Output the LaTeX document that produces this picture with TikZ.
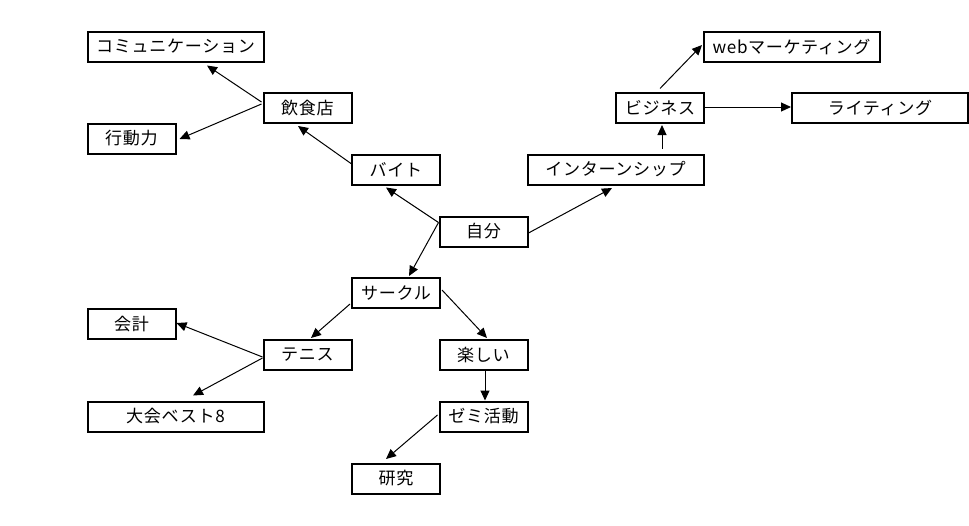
\documentclass[tikz,border=0pt]{standalone}
\usepackage{fontspec}
\setmainfont{Noto Sans CJK JP}[LetterSpace=4]
\usetikzlibrary{arrows.meta,calc}
\begin{document}
\begin{tikzpicture}[x=0.75pt,y=-0.75pt,
  box/.style={draw,line width=1.5pt,minimum height=22.5pt,inner sep=0pt,font=\fontsize{12.8pt}{14pt}\selectfont},
  sbox/.style={box,minimum width=66pt},
  lbox/.style={box,minimum width=132pt},
  arr/.style={-{Triangle[length=7.5pt,width=6.75pt]},line width=0.75pt}]
\useasboundingbox (0,0) rectangle (969,525);
\node[lbox] (comm) at (175.5,46.5) {コミュニケーション};
\node[sbox] (inshoku) at (307.5,108) {飲食店};
\node[sbox] (kodo) at (131.5,138.5) {行動力};
\node[sbox] (baito) at (396,169.5) {バイト};
\node[sbox] (jibun) at (483.5,231.5) {自分};
\node[lbox] (intern) at (615.5,169.5) {インターンシップ};
\node[sbox] (biz) at (660,108) {ビジネス};
\node[lbox] (web) at (791.5,46.5) {webマーケティング};
\node[lbox] (writing) at (880,108) {ライティング};
\node[sbox] (circle) at (396,293) {サークル};
\node[sbox] (kaikei) at (131.5,324) {会計};
\node[sbox] (tennis) at (307.5,355) {テニス};
\node[sbox] (tanoshii) at (483.5,355) {楽しい};
\node[lbox] (taikai) at (175.5,416.5) {大会ベスト8};
\node[sbox] (zemi) at (483.5,416.5) {ゼミ活動};
\node[sbox] (kenkyu) at (396,478.5) {研究};

\draw[arr] ($(inshoku.west)+(-1,-6)$) -- ($(comm.south)+(31.5,3)$);
\draw[arr] ($(inshoku.west)+(-1,-4)$) -- ($(kodo.east)+(3,0.5)$);
\draw[arr] ($(baito.west)+(0,-6)$) -- ($(inshoku.south)+(-9.5,2)$);
\draw[arr] ($(jibun.west)+(0,-9)$) -- ($(baito.south)+(-10,2)$);
\draw[arr] ($(jibun.west)+(0,-9)$) -- ($(circle.north)+(13,-1)$);
\draw[arr] ($(jibun.east)+(0,1.5)$) -- ($(intern.south)+(-3.5,2.5)$);
\draw[arr] ($(intern.north)+(46.5,-5)$) -- ($(biz.south)+(2,1)$);
\draw[arr] ($(biz.north)+(0,-3.5)$) -- ($(web.west)+(-0.5,-1.5)$);
\draw[arr] ($(biz.east)+(0,-1)$) -- ($(writing.west)+(0,-1)$);
\draw[arr] ($(circle.west)+(-1,11)$) -- ($(tennis.north)+(3.5,-1)$);
\draw[arr] ($(circle.east)+(1,-3)$) -- ($(tanoshii.north)+(3.5,-1)$);
\draw[arr] ($(tennis.west)+(0,2)$) -- ($(kaikei.east)+(0,-1)$);
\draw[arr] ($(tennis.west)+(0,3)$) -- ($(taikai.north)+(17.5,-5)$);
\draw[arr] ($(tanoshii.south)+(1.5,0)$) -- ($(zemi.north)+(1.5,0)$);
\draw[arr] ($(zemi.west)+(-1,-1.5)$) -- ($(kenkyu.north)+(-10,-3.5)$);
\end{tikzpicture}
\end{document}
